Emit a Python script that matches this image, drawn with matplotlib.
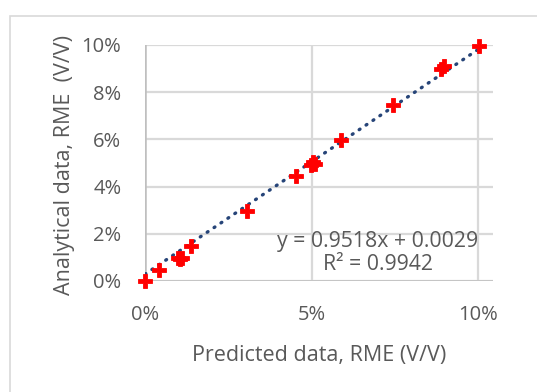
import matplotlib
matplotlib.use("Agg")
import matplotlib.pyplot as plt
from matplotlib.ticker import PercentFormatter
from matplotlib.patches import Rectangle
import numpy as np

predicted = [0.000, 0.0042, 0.0098, 0.0112, 0.0105, 0.0137, 0.0305, 0.0452, 0.0498, 0.0510, 0.0505, 0.0590, 0.0746, 0.0890, 0.0897, 0.1003]
analytical = [0.000, 0.0047, 0.0098, 0.0097, 0.0093, 0.0150, 0.0297, 0.0446, 0.0490, 0.0497, 0.0505, 0.0596, 0.0746, 0.0900, 0.0910, 0.0997]
slope = 0.9518
intercept = 0.0029
r2 = 0.9942
x_ticks = [0.0, 0.05, 0.10]
y_ticks = [0.0, 0.02, 0.04, 0.06, 0.08, 0.10]

plt.rcParams['font.family'] = ['Open Sans', 'DejaVu Sans']
fig = plt.figure(figsize=(5.37, 3.92), dpi=100)
fig.patches.append(Rectangle((10/537, -0.1), 1.2, 1 - 16/392 + 0.1, transform=fig.transFigure,
                             fill=False, edgecolor='#D9D9D9', linewidth=1.2))
ax = fig.add_axes([145/537, 1 - 281/392, (493-145)/537, (281-45)/392])

grid_c = '#D9D9D9'
for xv in x_ticks:
    ax.axvline(xv, color=grid_c, lw=1.6, zorder=0)
for yv in y_ticks:
    ax.axhline(yv, color=grid_c, lw=1.6, zorder=0)
ax.axhline(0, color='#BFBFBF', lw=1.8, zorder=0)
ax.axvline(0, color='#BFBFBF', lw=1.8, zorder=0)

xs = np.array([0.0, 0.10])
ax.plot(xs, slope * xs + intercept, color='#264478', lw=2.4,
        linestyle=(0, (0.3, 2.2)), dash_capstyle='round', zorder=2)
ax.plot(predicted, analytical, linestyle='none', marker='P', color='#FF0000',
        markersize=10, markeredgewidth=0.6, markeredgecolor='#FF0000', zorder=3, clip_on=False)

ax.set_xlim(0, 0.1045)
ax.set_ylim(0, 0.10)
ax.set_xticks(x_ticks)
ax.set_yticks(y_ticks)
ax.xaxis.set_major_formatter(PercentFormatter(1.0, decimals=0))
ax.yaxis.set_major_formatter(PercentFormatter(1.0, decimals=0))
for s in ax.spines.values():
    s.set_visible(False)
ax.tick_params(length=0, labelsize=14.5, colors='#595959', pad=17)
ax.set_xlabel('Predicted data, RME (V/V)', fontsize=15.5, color='#595959', va='center')
ax.set_ylabel('Analytical data, RME  (V/V)', fontsize=15.5, color='#595959', va='center')
ax.xaxis.set_label_coords(0.501, -0.314)
ax.yaxis.set_label_coords(-0.232, 0.49)

ax.text(0.1, 0.0166, f'y = {slope}x + {intercept}', ha='right', va='center',
        fontsize=15.3, color='#595959')
ax.text(0.0700, 0.0068, f'R² = {r2}', ha='center', va='center',
        fontsize=15.3, color='#595959')

fig.savefig('out.png', dpi=100)
